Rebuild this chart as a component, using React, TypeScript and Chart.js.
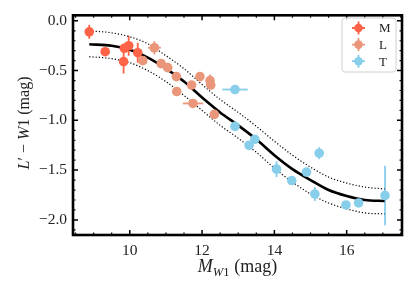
import React, { useEffect, useRef } from 'react';
import { Chart, registerables } from 'chart.js';
Chart.register(...registerables);

// M dwarfs
const mX = [8.88, 9.32, 9.85, 9.97, 9.83, 10.22];
const mY = [-0.11, -0.31, -0.275, -0.25, -0.41, -0.32];
const mXErr = [0.04, 0, 0, 0, 0, 0];
const mYErr = [0.07, 0, 0.03, 0.1, 0.12, 0.1];
// L dwarfs
const lX = [10.36, 10.68, 10.87, 11.05, 11.29, 11.3, 11.71, 11.75, 11.94, 12.22, 12.24, 12.34];
const lY = [-0.4, -0.27, -0.43, -0.47, -0.56, -0.71, -0.645, -0.83, -0.56, -0.6, -0.645, -0.94];
const lXErr = [0, 0.18, 0, 0, 0, 0, 0.05, 0.28, 0, 0, 0, 0];
const lYErr = [0, 0.066, 0, 0, 0.03, 0, 0.04, 0.03, 0, 0.06, 0, 0];
// T dwarfs
const tX = [12.91, 12.91, 13.3, 13.46, 14.06, 14.48, 14.89, 15.24, 15.12, 15.98, 16.33, 17.06];
const tY = [-0.69, -1.06, -1.25, -1.19, -1.49, -1.605, -1.52, -1.33, -1.74, -1.85, -1.83, -1.755];
const tXErr = [0.35, 0.03, 0, 0, 0, 0, 0, 0, 0.08, 0, 0, 0];
const tYErr = [0.02, 0.03, 0.03, 0, 0.08, 0.03, 0, 0.06, 0.07, 0.02, 0.04, 0.3];

// fit and its scatter band
const fitX = [8.88, 9.5, 10.0, 10.5, 11.0, 11.5, 12.0, 12.5, 13.0, 13.5, 14.0, 14.5, 15.0, 15.5, 16.0, 16.5, 17.05];
const fitY = [-0.235, -0.25, -0.29, -0.37, -0.48, -0.61, -0.77, -0.92, -1.05, -1.19, -1.35, -1.49, -1.6, -1.7, -1.76, -1.8, -1.81];
const fitUpper = [-0.1, -0.12, -0.16, -0.23, -0.35, -0.48, -0.64, -0.79, -0.92, -1.06, -1.21, -1.35, -1.47, -1.57, -1.63, -1.67, -1.69];
const fitLower = [-0.36, -0.38, -0.42, -0.5, -0.61, -0.75, -0.9, -1.05, -1.18, -1.32, -1.48, -1.62, -1.74, -1.83, -1.89, -1.93, -1.94];

const xTicks = [10, 12, 14, 16];
const yTicks = [0, -0.5, -1.0, -1.5, -2.0];
const X_MIN = 8.43, X_MAX = 17.53, Y_MIN = -2.152, Y_MAX = 0.056;

const COL_M = '#FF6347';
const COL_L = '#E9967A';
const COL_T = '#87CEEB';
const SERIF = '"Liberation Serif", "DejaVu Serif", serif';

const pts = (xs: number[], ys: number[]) => xs.map((x, i) => ({ x, y: ys[i] }));

const errorBarPlugin = {
  id: 'errbars',
  beforeDatasetsDraw(chart: any) {
    const { ctx, scales } = chart;
    const xs = scales.x, ys = scales.y;
    chart.data.datasets.forEach((ds: any) => {
      if (!ds.errX) return;
      ctx.save();
      ctx.strokeStyle = ds.backgroundColor;
      ctx.lineWidth = 1.8;
      ds.data.forEach((p: any, j: number) => {
        const px = xs.getPixelForValue(p.x), py = ys.getPixelForValue(p.y);
        const ex = ds.errX[j], ey = ds.errY[j];
        if (ex) {
          ctx.beginPath();
          ctx.moveTo(xs.getPixelForValue(p.x - ex), py);
          ctx.lineTo(xs.getPixelForValue(p.x + ex), py);
          ctx.stroke();
        }
        if (ey) {
          ctx.beginPath();
          ctx.moveTo(px, ys.getPixelForValue(p.y - ey));
          ctx.lineTo(px, ys.getPixelForValue(p.y + ey));
          ctx.stroke();
        }
      });
      ctx.restore();
    });
  },
};

function drawRich(ctx: CanvasRenderingContext2D, parts: any[], cx: number, cy: number, size: number) {
  const fontFor = (p: any) => `${p.it ? 'italic ' : ''}${p.sub ? size * 0.7 : size}px ${SERIF}`;
  let total = 0;
  parts.forEach((p) => { ctx.font = fontFor(p); total += ctx.measureText(p.t).width; });
  let x = cx - total / 2;
  ctx.textBaseline = 'alphabetic';
  ctx.textAlign = 'left';
  parts.forEach((p) => {
    ctx.font = fontFor(p);
    ctx.fillText(p.t, x, cy + (p.sub ? size * 0.22 : 0));
    x += ctx.measureText(p.t).width;
  });
}

const framePlugin = {
  id: 'frame',
  afterDraw(chart: any) {
    const { ctx, chartArea: a, scales } = chart;
    const xs = scales.x, ys = scales.y;
    ctx.save();
    ctx.strokeStyle = '#000';
    // ticks, inward on all sides
    const tick = (len: number, lw: number, vx: number[] | null, vy: number[] | null) => {
      ctx.lineWidth = lw;
      ctx.beginPath();
      (vx || []).forEach((v) => {
        const p = xs.getPixelForValue(v);
        ctx.moveTo(p, a.bottom); ctx.lineTo(p, a.bottom - len);
        ctx.moveTo(p, a.top); ctx.lineTo(p, a.top + len);
      });
      (vy || []).forEach((v) => {
        const p = ys.getPixelForValue(v);
        ctx.moveTo(a.left, p); ctx.lineTo(a.left + len, p);
        ctx.moveTo(a.right, p); ctx.lineTo(a.right - len, p);
      });
      ctx.stroke();
    };
    const minorX: number[] = [];
    for (let v = 8.5; v <= 17.5; v += 0.5) if (!xTicks.includes(v)) minorX.push(v);
    const minorY: number[] = [];
    for (let k = -21; k <= 0; k++) { const v = k / 10; if (k % 5 !== 0) minorY.push(v); }
    tick(2.5, 1.2, minorX, minorY);
    tick(5, 1.5, xTicks, yTicks);
    ctx.lineWidth = 2.6;
    ctx.strokeRect(a.left, a.top, a.right - a.left, a.bottom - a.top);

    // axis titles
    ctx.fillStyle = '#222';
    drawRich(ctx, [{ t: 'M', it: true }, { t: 'W', it: true, sub: true }, { t: '1', sub: true }, { t: ' (mag)' }],
      (a.left + a.right) / 2, 272, 18);
    ctx.save();
    ctx.translate(29, 123);
    ctx.rotate(-Math.PI / 2);
    drawRich(ctx, [{ t: 'L', it: true }, { t: '′' }, { t: ' − ' }, { t: 'W', it: true }, { t: '1' }, { t: ' (mag)' }], 0, 0, 16);
    ctx.restore();

    // legend
    const bx = 342, by = 18, bw = 54, bh = 54;
    ctx.fillStyle = 'rgba(255,255,255,0.85)';
    ctx.strokeStyle = '#d0d0d0';
    ctx.lineWidth = 1;
    ctx.beginPath();
    ctx.roundRect(bx, by, bw, bh, 3);
    ctx.fill();
    ctx.stroke();
    const entries = chart.data.datasets.filter((d: any) => d.errX);
    entries.forEach((d: any, i: number) => {
      const yy = 28 + i * 16.6;
      const xx = 358.5;
      ctx.strokeStyle = d.backgroundColor;
      ctx.fillStyle = d.backgroundColor;
      ctx.lineWidth = 1.8;
      ctx.beginPath();
      ctx.moveTo(xx - 6.5, yy); ctx.lineTo(xx + 6.5, yy);
      ctx.moveTo(xx, yy - 6.5); ctx.lineTo(xx, yy + 6.5);
      ctx.stroke();
      ctx.beginPath();
      ctx.arc(xx, yy, 4.3, 0, Math.PI * 2);
      ctx.fill();
      ctx.fillStyle = '#222';
      ctx.font = `13px ${SERIF}`;
      ctx.textAlign = 'left';
      ctx.textBaseline = 'middle';
      ctx.fillText(d.label, 379, yy + 1);
    });
    ctx.restore();
  },
};

export default function App() {
  const ref = useRef<HTMLCanvasElement | null>(null);
  useEffect(() => {
    if (!ref.current) return;
    const lineDs = (label: string, ys: number[], dotted: boolean) => ({
      type: 'line' as const,
      label,
      data: pts(fitX, ys),
      borderColor: '#000',
      borderWidth: dotted ? 1.2 : 2.6,
      borderDash: dotted ? [1.2, 2] : [],
      pointRadius: 0,
      cubicInterpolationMode: 'monotone' as const,
      fill: false,
      order: 2,
    });
    const scatterDs = (label: string, xs: number[], ys: number[], ex: number[], ey: number[], c: string) => ({
      type: 'scatter' as const,
      label,
      data: pts(xs, ys),
      backgroundColor: c,
      borderColor: c,
      borderWidth: 0,
      pointRadius: 4.8,
      errX: ex,
      errY: ey,
      order: 1,
    });
    const chart = new Chart(ref.current, {
      type: 'scatter',
      data: {
        datasets: [
          scatterDs('M', mX, mY, mXErr, mYErr, COL_M),
          scatterDs('L', lX, lY, lXErr, lYErr, COL_L),
          scatterDs('T', tX, tY, tXErr, tYErr, COL_T),
          lineDs('fit', fitY, false),
          lineDs('upper', fitUpper, true),
          lineDs('lower', fitLower, true),
        ] as any,
      },
      options: {
        responsive: false,
        animation: false,
        layout: { padding: { left: 0, right: 13, top: 13, bottom: 0 } },
        plugins: { legend: { display: false }, tooltip: { enabled: false } },
        scales: {
          x: {
            type: 'linear',
            min: X_MIN,
            max: X_MAX,
            grid: { display: false, drawTicks: false },
            border: { display: false },
            afterBuildTicks: (s: any) => { s.ticks = xTicks.map((v) => ({ value: v })); },
            afterFit: (s: any) => { s.height = 55; },
            ticks: { color: '#222', padding: 7, font: { family: SERIF, size: 15.5 }, maxRotation: 0, callback: (v: any) => String(v) },
          },
          y: {
            type: 'linear',
            min: Y_MIN,
            max: Y_MAX,
            grid: { display: false, drawTicks: false },
            border: { display: false },
            afterBuildTicks: (s: any) => { s.ticks = yTicks.map((v) => ({ value: v })); },
            afterFit: (s: any) => { s.width = 73; },
            ticks: {
              color: '#222', padding: 6, font: { family: SERIF, size: 15.5 },
              callback: (v: any) => { const n = Number(v); return (n < 0 ? '−' : '') + Math.abs(n).toFixed(1); },
            },
          },
        },
      },
      plugins: [errorBarPlugin, framePlugin],
    } as any);
    return () => chart.destroy();
  }, []);
  return (
    <div style={{ position: 'absolute', left: 0, top: 0, width: 415, height: 290, background: '#fff' }}>
      <canvas ref={ref} width={415} height={290} />
    </div>
  );
}
